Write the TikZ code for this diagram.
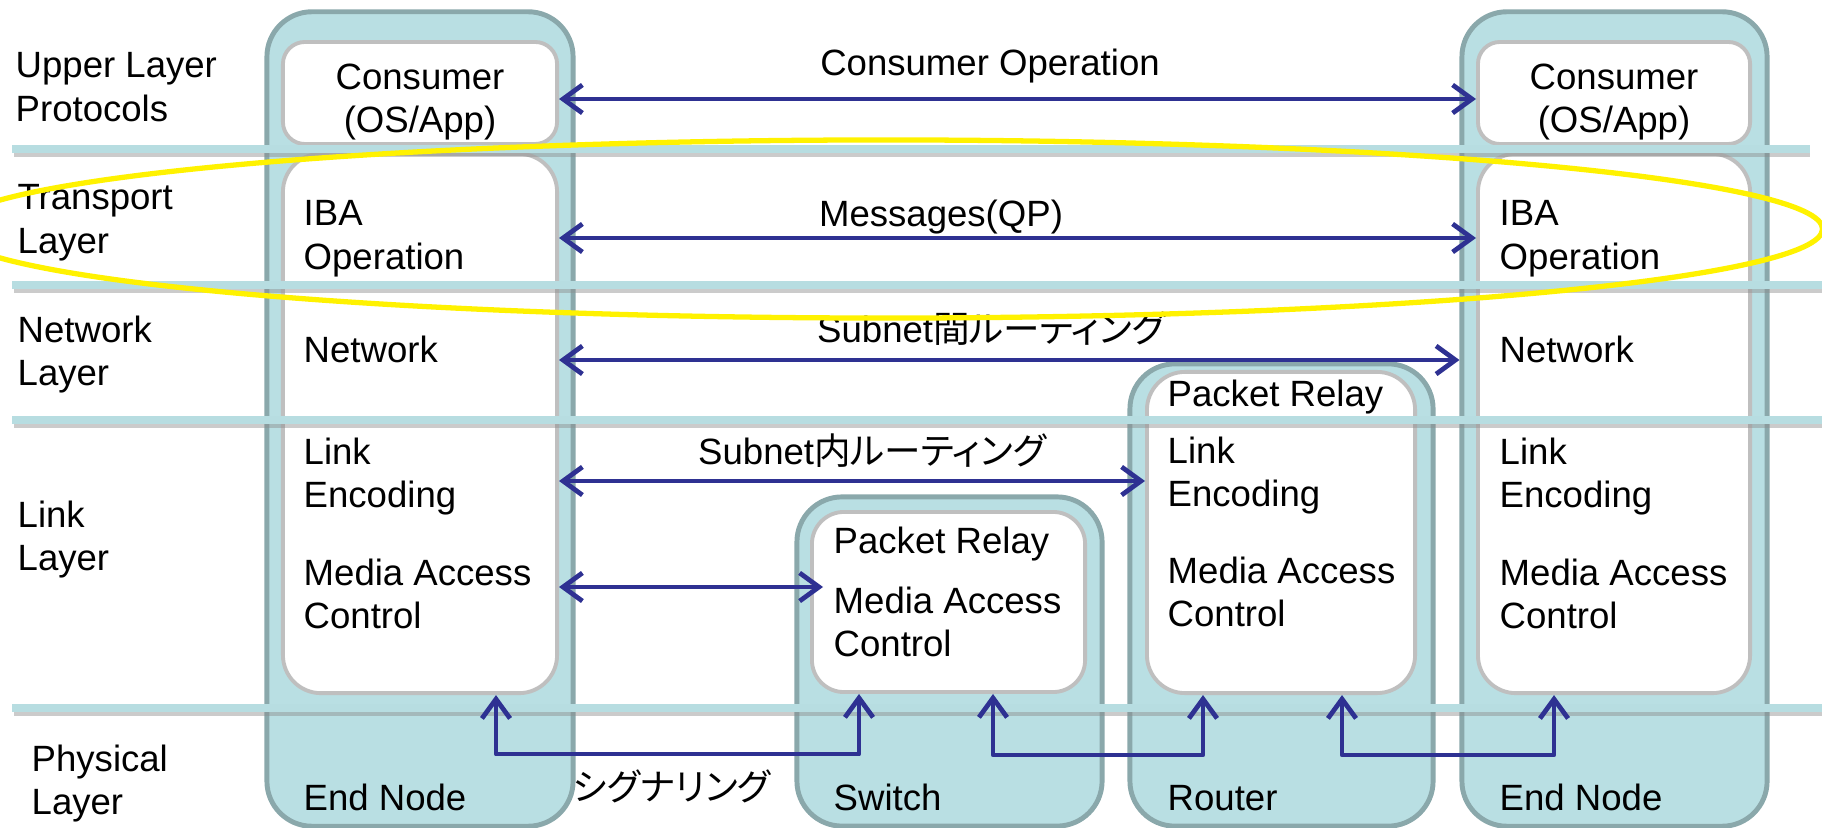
\documentclass[tikz,border=0pt]{standalone}
\usepackage{fontspec}
\setmainfont{Liberation Sans}
\newfontfamily\jp[RawFeature=+palt]{Noto Sans CJK JP}
\usepackage{tikz}
\usetikzlibrary{arrows.meta, positioning, calc}
\definecolor{devfill}{HTML}{B9DFE3}
\definecolor{devline}{HTML}{8AA8AB}
\definecolor{boxline}{HTML}{BFBFBF}
\definecolor{layerblue}{HTML}{B7DDE1}
\definecolor{arrowblue}{HTML}{2E3192}
\tikzstyle{device} = [rectangle, rounded corners=0.45cm, draw=devline, line width=1.4pt, fill=devfill, inner sep=0pt]
\tikzstyle{layerbox} = [rectangle, rounded corners=0.38cm, draw=boxline, line width=1.1pt, fill=white, inner sep=0pt]
\tikzstyle{smallbox} = [layerbox, rounded corners=0.22cm]
\tikzstyle{txt} = [inner sep=0pt, align=left]
\tikzstyle{layerline} = [line width=2.3pt, draw=layerblue]
\tikzstyle{lineshadow} = [line width=1.6pt, draw=black!45, opacity=0.45]
\tikzstyle{arrow} = [line width=1.35pt, draw=arrowblue, line cap=round, line join=round, {Straight Barb[length=5.5pt,width=8pt]}-{Straight Barb[length=5.5pt,width=8pt]}]

\begin{document}
\begin{tikzpicture}[x=0.01cm, y=-0.01cm, font=\fontsize{10.4}{12.4}\selectfont]
    \useasboundingbox (0,0) rectangle (1822,828);
    \clip (0,0) rectangle (1822,828);

    % Devices
    \node (en1) [device, minimum width=3.06cm, minimum height=8.14cm] at (420,419) {};
    \node (sw) [device, minimum width=3.05cm, minimum height=3.29cm] at (949.5,661.5) {};
    \node (rt) [device, minimum width=3.03cm, minimum height=4.62cm] at (1281.5,595) {};
    \node (en2) [device, minimum width=3.05cm, minimum height=8.14cm] at (1614.5,419) {};

    % Layer boxes inside the devices
    \node (en1up) [smallbox, minimum width=2.74cm, minimum height=1.02cm] at (420,93) {};
    \node (en1low) [layerbox, minimum width=2.74cm, minimum height=5.39cm] at (420,423.5) {};
    \node (swin) [layerbox, rounded corners=0.32cm, minimum width=2.73cm, minimum height=1.80cm] at (948.5,602) {};
    \node (rtin) [layerbox, minimum width=2.68cm, minimum height=3.21cm] at (1281,532.5) {};
    \node (en2up) [smallbox, minimum width=2.72cm, minimum height=1.02cm] at (1614,93) {};
    \node (en2low) [layerbox, minimum width=2.72cm, minimum height=5.39cm] at (1614,423.5) {};

    % Layer borders
    \foreach \y/\xend in {149/1810, 285/1822, 420/1822, 708/1822} {
        \draw [lineshadow] (14,\y+5) -- (\xend,\y+5);
        \draw [layerline] (12,\y) -- (\xend,\y);
    }

    % Layer names
    \node (upper) [txt, anchor=north west] at (15,52) {Upper Layer\\Protocols};
    \node (transport) [txt, anchor=north west] at (17,184) {Transport\\Layer};
    \node (network) [txt, anchor=north west] at (17,315) {Network\\Layer};
    \node (link) [txt, anchor=north west] at (17,500) {Link\\Layer};
    \node (physical) [txt, anchor=north west] at (31,744) {Physical\\Layer};

    % End Node (left)
    \node (en1cons) [txt, align=center, anchor=north] at (420,63) {Consumer\\(OS/App)};
    \node (en1iba) [txt, anchor=north west] at (303,200) {IBA\\Operation};
    \node (en1net) [txt, anchor=north west] at (303,335) {Network};
    \node (en1link) [txt, anchor=north west] at (303,437) {Link\\Encoding};
    \node (en1mac) [txt, anchor=north west] at (303,558) {Media Access\\Control};
    \node (en1name) [txt, anchor=base west] at (303,810) {End Node};

    % Switch
    \node (swrelay) [txt, anchor=north west] at (833,526) {Packet Relay};
    \node (swmac) [txt, anchor=north west] at (833,586) {Media Access\\Control};
    \node (swname) [txt, anchor=base west] at (833,810) {Switch};

    % Router
    \node (rtrelay) [txt, anchor=north west] at (1167,379) {Packet Relay};
    \node (rtlink) [txt, anchor=north west] at (1167,436) {Link\\Encoding};
    \node (rtmac) [txt, anchor=north west] at (1167,556) {Media Access\\Control};
    \node (rtname) [txt, anchor=base west] at (1167,810) {Router};

    % End Node (right)
    \node (en2cons) [txt, align=center, anchor=north] at (1614,63) {Consumer\\(OS/App)};
    \node (en2iba) [txt, anchor=north west] at (1499,200) {IBA\\Operation};
    \node (en2net) [txt, anchor=north west] at (1499,335) {Network};
    \node (en2link) [txt, anchor=north west] at (1499,437) {Link\\Encoding};
    \node (en2mac) [txt, anchor=north west] at (1499,558) {Media Access\\Control};
    \node (en2name) [txt, anchor=base west] at (1499,810) {End Node};

    % Peer arrows
    \draw [arrow] (en1up.east |- 0,99) -- (en2up.west |- 0,99);
    \draw [arrow] (en1low.east |- 0,238) -- (en2low.west |- 0,238);
    \draw [arrow] (en1low.east |- 0,360) -- (en2.west |- 0,360);
    \draw [arrow] (en1low.east |- 0,481) -- (rtin.west |- 0,481);
    \draw [arrow, shorten >=-0.13cm] (en1low.east |- 0,587) -- (swin.west |- 0,587);

    % Arrow labels
    \node (lblcons) [txt, anchor=base] at (990,76) {Consumer Operation};
    \node (lblmsg) [txt, anchor=base] at (941,227) {Messages(QP)};
    \node (lblinter) [txt, anchor=base] at (991,343) {Subnet{\jp 間ルーティング}};
    \node (lblintra) [txt, anchor=base] at (872,465) {Subnet{\jp 内ルーティング}};
    \node (lblsig) [txt, anchor=base] at (672,800) {\jp シグナリング};

    % Signaling
    \draw [arrow] (en1low.south -| 496,0) -- ++(0,59) -| (swin.south -| 859,0);
    \draw [arrow] (swin.south -| 993,0) -- ++(0,61) -| (rtin.south -| 1203,0);
    \draw [arrow] (rtin.south -| 1342,0) -- ++(0,60) -| (en2low.south -| 1554,0);

    % Highlight
    \draw [yellow, line width=1.5pt] (886,229) ellipse [x radius=9.36cm, y radius=0.89cm];
\end{tikzpicture}
\end{document}
